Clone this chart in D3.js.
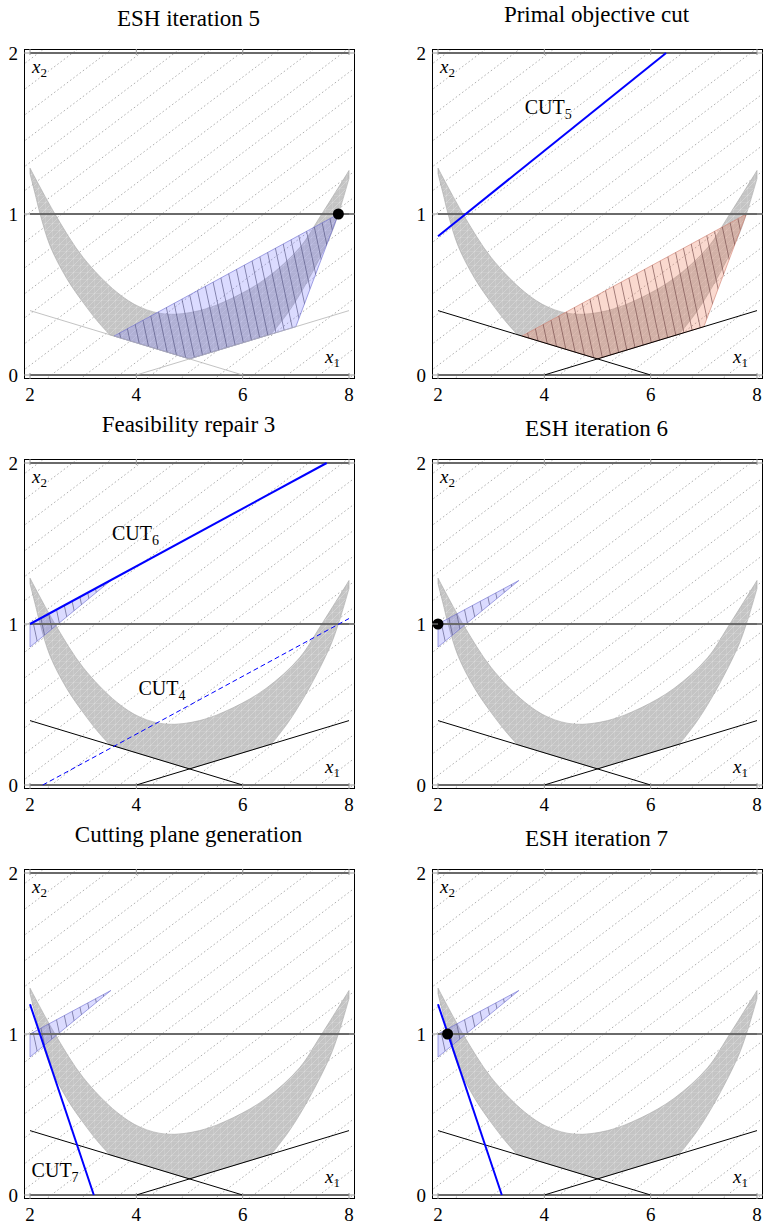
<!DOCTYPE html>
<html>
<head>
<meta charset="utf-8">
<script src="https://cdn.jsdelivr.net/npm/d3@7"></script>
<style>
  body { margin: 0; background: #fff; }
  svg { display: block; font-family: "Liberation Serif", "Times New Roman", serif; }
</style>
</head>
<body>
<div id="chart"></div>
<script>
// ---- data ----
const titles = ["ESH iteration 5", "Primal objective cut", "Feasibility repair 3",
                "ESH iteration 6", "Cutting plane generation", "ESH iteration 7"];
const xTicks = [2, 4, 6, 8];
const yTicks = [0, 1, 2];
const integerLevels = [0, 1, 2];

// nonconvex feasible band (crescent)
const outerLeft = [[2.0, 1.25], [2.1, 1.12], [2.19, 1.0], [2.38, 0.80], [2.69, 0.60],
                   [3.0, 0.45], [3.28, 0.33], [3.5, 0.25]];
const floorKinks = [[3.5, 0.25], [5.0, 0.1], [6.54, 0.254]];
const outerRight = [[6.54, 0.254], [6.88, 0.4], [7.26, 0.607], [7.64, 0.857], [7.8, 1.0],
                    [8.0, 1.22]];
const innerCurve = [[2.0, 1.285], [2.47, 1.0], [3.0, 0.73], [3.63, 0.515], [4.08, 0.42],
                    [4.57, 0.378], [5.19, 0.40], [5.82, 0.48], [6.44, 0.60], [7.07, 0.79],
                    [7.45, 0.98], [8.0, 1.27]];

// linear constraints
const constraintA = [[2, 0.4], [6, 0]];
const constraintB = [[4, 0], [8, 0.4]];

// objective contours: x2 = slope * (x1 - 2) + level
const contourSlope = 0.25;
const contourLevels = [1.96, 1.80, 1.64, 1.48, 1.32, 1.17, 1.01, 0.85, 0.69, 0.53, 0.38,
                       0.22, 0.06, -0.10, -0.26, -0.42, -0.57, -0.73, -0.89, -1.05, -1.21,
                       -1.36, -1.52];

// polyhedral regions
const relaxedRegion = [[3.58, 0.242], [7.8, 1.0], [7.0, 0.3], [5.0, 0.1]];
const wedgeRegion = [[2, 1.0], [3.52, 1.27], [2, 0.857]];

// cuts
const cut4 = [[2.24, 0], [8, 1.034]];
const cut5 = [[2, 0.862], [6.29, 2]];
const cut6 = [[2, 1], [7.58, 2]];
const cut7 = [[2, 1.185], [3.2, 0]];

// solution points
const eshPoints = { p5: [7.8, 1.0], p6: [2.0, 1.0], p7: [2.18, 1.0] };

// label anchors
const cutLabels = {
  cut4: { text: "CUT", sub: "4", at: [4.04, 0.56] },
  cut5: { text: "CUT", sub: "5", at: [3.63, 1.62] },
  cut6: { text: "CUT", sub: "6", at: [3.54, 1.52] },
  cut7: { text: "CUT", sub: "7", at: [2.03, 0.11] }
};

// ---- layout ----
const width = 763, height = 1223;
const frameW = 331, frameH = 330;
const origins = [[24, 49], [432, 49], [24, 459], [432, 459], [24, 869], [432, 869]];

const panels = [
  { region: relaxedRegion, regionFill: "blue", faintConstraints: true, point: eshPoints.p5 },
  { region: relaxedRegion, regionFill: "red", cuts: [{ seg: cut5 }], labels: [cutLabels.cut5] },
  { region: wedgeRegion, regionFill: "blue", cuts: [{ seg: cut6 }, { seg: cut4, dashed: true }],
    labels: [cutLabels.cut6, cutLabels.cut4] },
  { region: wedgeRegion, regionFill: "blue", point: eshPoints.p6 },
  { region: wedgeRegion, regionFill: "blue", cuts: [{ seg: cut7 }], labels: [cutLabels.cut7] },
  { region: wedgeRegion, regionFill: "blue", cuts: [{ seg: cut7 }], point: eshPoints.p7 }
];

const svg = d3.select("#chart").append("svg")
  .attr("width", width).attr("height", height);

const defs = svg.append("defs");

// light crosshatch inside the crescent
const ch = defs.append("pattern").attr("id", "crosshatch")
  .attr("patternUnits", "userSpaceOnUse").attr("width", 7).attr("height", 7);
ch.append("rect").attr("width", 7).attr("height", 7).attr("fill", "#c4c4c4");
ch.append("path").attr("d", "M0,7 L7,0 M-1,1 L1,-1 M6,8 L8,6 M0,0 L0,7 M0,7 L7,7")
  .attr("stroke", "#fff").attr("stroke-opacity", 0.35).attr("stroke-width", 0.7);

// steep hatch lines for the polyhedral regions
[["hatchBlue", "#4a4a78"], ["hatchRed", "#6a4040"]].forEach(([id, c]) => {
  const p = defs.append("pattern").attr("id", id)
    .attr("patternUnits", "userSpaceOnUse").attr("width", 8.5).attr("height", 8.5)
    .attr("patternTransform", "rotate(-12)");
  p.append("line").attr("x1", 0.5).attr("y1", 0).attr("x2", 0.5).attr("y2", 8.5)
    .attr("stroke", c).attr("stroke-opacity", 0.75).attr("stroke-width", 0.8);
});

const regionStyle = {
  blue: { fill: "#7a7aff", opacity: 0.27, edge: "#6a6ad0", hatch: "url(#hatchBlue)" },
  red: { fill: "#f08060", opacity: 0.3, edge: "#d08070", hatch: "url(#hatchRed)" }
};

panels.forEach((panel, i) => {
  const [ox, oy] = origins[i];
  const g = svg.append("g").attr("transform", `translate(${ox},${oy})`);

  const x = d3.scaleLinear().domain([2, 8]).range([6, 325]);
  const y = d3.scaleLinear().domain([0, 2]).range([326, 4]);
  const line = d3.line().x(d => x(d[0])).y(d => y(d[1]));
  const smooth = d3.line().x(d => x(d[0])).y(d => y(d[1])).curve(d3.curveCatmullRom);
  const cont = s => s.replace(/^M/, "L");

  const clipId = `clip${i}`;
  defs.append("clipPath").attr("id", clipId)
    .append("rect").attr("width", frameW).attr("height", frameH);

  const plot = g.append("g").attr("clip-path", `url(#${clipId})`);

  // objective contours
  plot.selectAll("line.contour").data(contourLevels).join("line")
    .attr("class", "contour")
    .attr("x1", x(1.8)).attr("y1", d => y(d + contourSlope * (1.8 - 2)))
    .attr("x2", x(8.2)).attr("y2", d => y(d + contourSlope * (8.2 - 2)))
    .attr("stroke", "#9a9a9a").attr("stroke-width", 0.8)
    .attr("stroke-dasharray", "0.8 3.2").attr("stroke-linecap", "round");

  // crescent
  const crescentPath = smooth(outerLeft) + cont(line(floorKinks)) + cont(smooth(outerRight))
    + cont(smooth(innerCurve.slice().reverse())) + "Z";
  plot.append("path")
    .attr("d", crescentPath)
    .attr("fill", "url(#crosshatch)")
    .attr("stroke", "#a8a8a8").attr("stroke-width", 0.6);

  // polyhedral region
  const st = regionStyle[panel.regionFill];
  plot.append("path").datum(panel.region)
    .attr("d", d => line(d) + "Z")
    .attr("fill", st.fill).attr("fill-opacity", st.opacity)
    .attr("stroke", st.edge).attr("stroke-width", 0.6);
  plot.append("path").datum(panel.region)
    .attr("d", d => line(d) + "Z")
    .attr("fill", st.hatch);

  // integer levels of x2
  plot.selectAll("line.level").data(integerLevels).join("line")
    .attr("class", "level")
    .attr("x1", x(2)).attr("x2", d => d === 1 ? frameW : x(8))
    .attr("y1", d => y(d)).attr("y2", d => y(d))
    .attr("stroke", "#6a6a6a").attr("stroke-width", 2);

  // linear constraints
  plot.selectAll("path.constraint").data([constraintA, constraintB]).join("path")
    .attr("class", "constraint")
    .attr("d", line)
    .attr("fill", "none")
    .attr("stroke", panel.faintConstraints ? "#b4b4b4" : "#000")
    .attr("stroke-width", panel.faintConstraints ? 0.8 : 1);

  // cuts
  (panel.cuts || []).forEach(c => {
    plot.append("path").datum(c.seg)
      .attr("d", line)
      .attr("fill", "none")
      .attr("stroke", "#0000ff")
      .attr("stroke-width", c.dashed ? 1 : 2)
      .attr("stroke-dasharray", c.dashed ? "5 3" : null);
  });

  // point
  if (panel.point) {
    plot.append("circle")
      .attr("cx", x(panel.point[0])).attr("cy", y(panel.point[1]))
      .attr("r", 5.5).attr("fill", "#000");
  }

  // cut labels
  (panel.labels || []).forEach(l => {
    const t = g.append("text")
      .attr("x", x(l.at[0])).attr("y", y(l.at[1]))
      .attr("font-size", 20).attr("fill", "#000");
    t.append("tspan").text(l.text);
    t.append("tspan").attr("dy", 5).attr("font-size", 14).text(l.sub);
  });

  // frame
  g.append("rect").attr("x", 0.5).attr("y", 0.5)
    .attr("width", frameW - 1).attr("height", frameH - 1)
    .attr("fill", "none").attr("stroke", "#000").attr("stroke-width", 1);

  // ticks (inside, top/bottom and left/right)
  const tickLen = 6;
  xTicks.forEach(v => {
    [[0, tickLen], [frameH, frameH - tickLen]].forEach(([a, b]) => {
      g.append("line").attr("x1", x(v)).attr("x2", x(v)).attr("y1", a).attr("y2", b)
        .attr("stroke", "#999").attr("stroke-width", 1);
    });
  });
  yTicks.forEach(v => {
    [[0, tickLen], [frameW, frameW - tickLen]].forEach(([a, b]) => {
      g.append("line").attr("y1", y(v)).attr("y2", y(v)).attr("x1", a).attr("x2", b)
        .attr("stroke", "#999").attr("stroke-width", 1);
    });
  });

  // tick labels
  g.selectAll("text.xt").data(xTicks).join("text")
    .attr("class", "xt")
    .attr("x", d => x(d)).attr("y", frameH + 21.5)
    .attr("text-anchor", "middle").attr("font-size", 19).text(d => d);
  g.selectAll("text.yt").data(yTicks).join("text")
    .attr("class", "yt")
    .attr("x", -6).attr("y", d => y(d) + 6.5)
    .attr("text-anchor", "end").attr("font-size", 19).text(d => d);

  // axis labels
  const xl2 = g.append("text").attr("x", 8).attr("y", 24)
    .attr("font-size", 19).attr("font-style", "italic");
  xl2.append("tspan").text("x");
  xl2.append("tspan").attr("dy", 4).attr("font-size", 13).attr("font-style", "normal").text("2");
  const xl1 = g.append("text").attr("x", frameW - 15).attr("y", frameH - 16)
    .attr("text-anchor", "end").attr("font-size", 19).attr("font-style", "italic");
  xl1.append("tspan").text("x");
  xl1.append("tspan").attr("dy", 4).attr("font-size", 13).attr("font-style", "normal").text("1");

  // title: bottom of text box sits at a fixed height
  const title = titles[i];
  const hasDescender = /[gjpqy]/.test(title);
  g.append("text")
    .attr("x", frameW / 2 - 1).attr("y", hasDescender ? -27.5 : -23)
    .attr("text-anchor", "middle").attr("font-size", 23).text(title);
});
</script>
</body>
</html>
